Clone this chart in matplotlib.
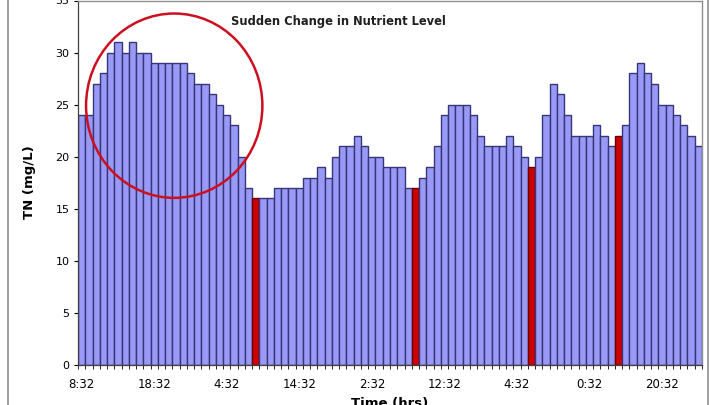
import matplotlib
matplotlib.use("Agg")
import matplotlib.pyplot as plt
from matplotlib.patches import Ellipse
from matplotlib.lines import Line2D
import numpy as np

# ---- data ----
tn_values = [24, 24, 27, 28, 30, 31, 30, 31, 30, 30,
             29, 29, 29, 29, 29, 28, 27, 27, 26, 25,
             24, 23, 20, 17, 16, 16, 16, 17, 17, 17,
             17, 18, 18, 19, 18, 20, 21, 21, 22, 21,
             20, 20, 19, 19, 19, 17, 17, 18, 19, 21,
             24, 25, 25, 25, 24, 22, 21, 21, 21, 22,
             21, 20, 19, 20, 24, 27, 26, 24, 22, 22,
             22, 23, 22, 21, 22, 23, 28, 29, 28, 27,
             25, 25, 24, 23, 22, 21]
change_idx = [24, 46, 62, 74]
tick_labels = ["8:32", "18:32", "4:32", "14:32", "2:32", "12:32", "4:32", "0:32", "20:32"]
label_every = 10
y_ticks = [0, 5, 10, 15, 20, 25, 30, 35]

plt.rcParams['font.family'] = ['DejaVu Sans']

fig = plt.figure(figsize=(7.2, 4.05), dpi=100)
ax = fig.add_axes([78/720, 1-365/405, 624/720, 364.5/405])

n = len(tn_values)
x = np.arange(n)
colors = ['#cc0000' if i in change_idx else '#9999f6' for i in x]
edges = ['#6a0000' if i in change_idx else '#363678' for i in x]
ax.bar(x, tn_values, width=1.0, color=colors, edgecolor=edges, linewidth=1.0)

ax.set_xlim(-0.5, n - 0.5)
ax.set_ylim(0, 35)
ax.set_yticks(y_ticks)
ax.tick_params(axis='y', labelsize=8, length=3, width=0.8, pad=3, direction='out')

major = np.arange(0, n, label_every)[:len(tick_labels)]
ax.set_xticks(major)
ax.set_xticklabels(tick_labels, fontsize=8.5)
ax.set_xticks(np.arange(-0.5, n, 1.0), minor=True)
ax.tick_params(axis='x', which='major', length=0, pad=9)
ax.tick_params(axis='x', which='minor', length=3, width=0.6, direction='out')

for s in ['top', 'right']:
    ax.spines[s].set_color('#909090')
    ax.spines[s].set_linewidth(1.0)
for s in ['left', 'bottom']:
    ax.spines[s].set_color('#404040')
    ax.spines[s].set_linewidth(0.9)

ax.text(0.418, 0.942, "Sudden Change in Nutrient Level", transform=ax.transAxes,
        ha='center', va='center', fontsize=8.3, fontweight='bold', color='#202020')

# red circle highlighting the sudden change
ell = Ellipse((12.76, 24.9), width=2 * 12.15, height=2 * 8.85,
              facecolor='none', edgecolor='#cc1020', linewidth=1.8, clip_on=False)
ax.add_patch(ell)

fig.text(30/720, 1-182/405, "TN (mg/L)", rotation=90, ha='center', va='center',
         fontsize=9.5, fontweight='bold')
fig.text(390/720, 1-397/405, "Time (hrs)", ha='center', va='top',
         fontsize=9.5, fontweight='bold')

# outer chart border
fig.add_artist(Line2D([8/720, 8/720], [0, 1], transform=fig.transFigure,
                      color='#909090', linewidth=1.2))
fig.add_artist(Line2D([708/720, 708/720], [0, 1], transform=fig.transFigure,
                      color='#909090', linewidth=1.2))

fig.savefig("out.png", dpi=100)
